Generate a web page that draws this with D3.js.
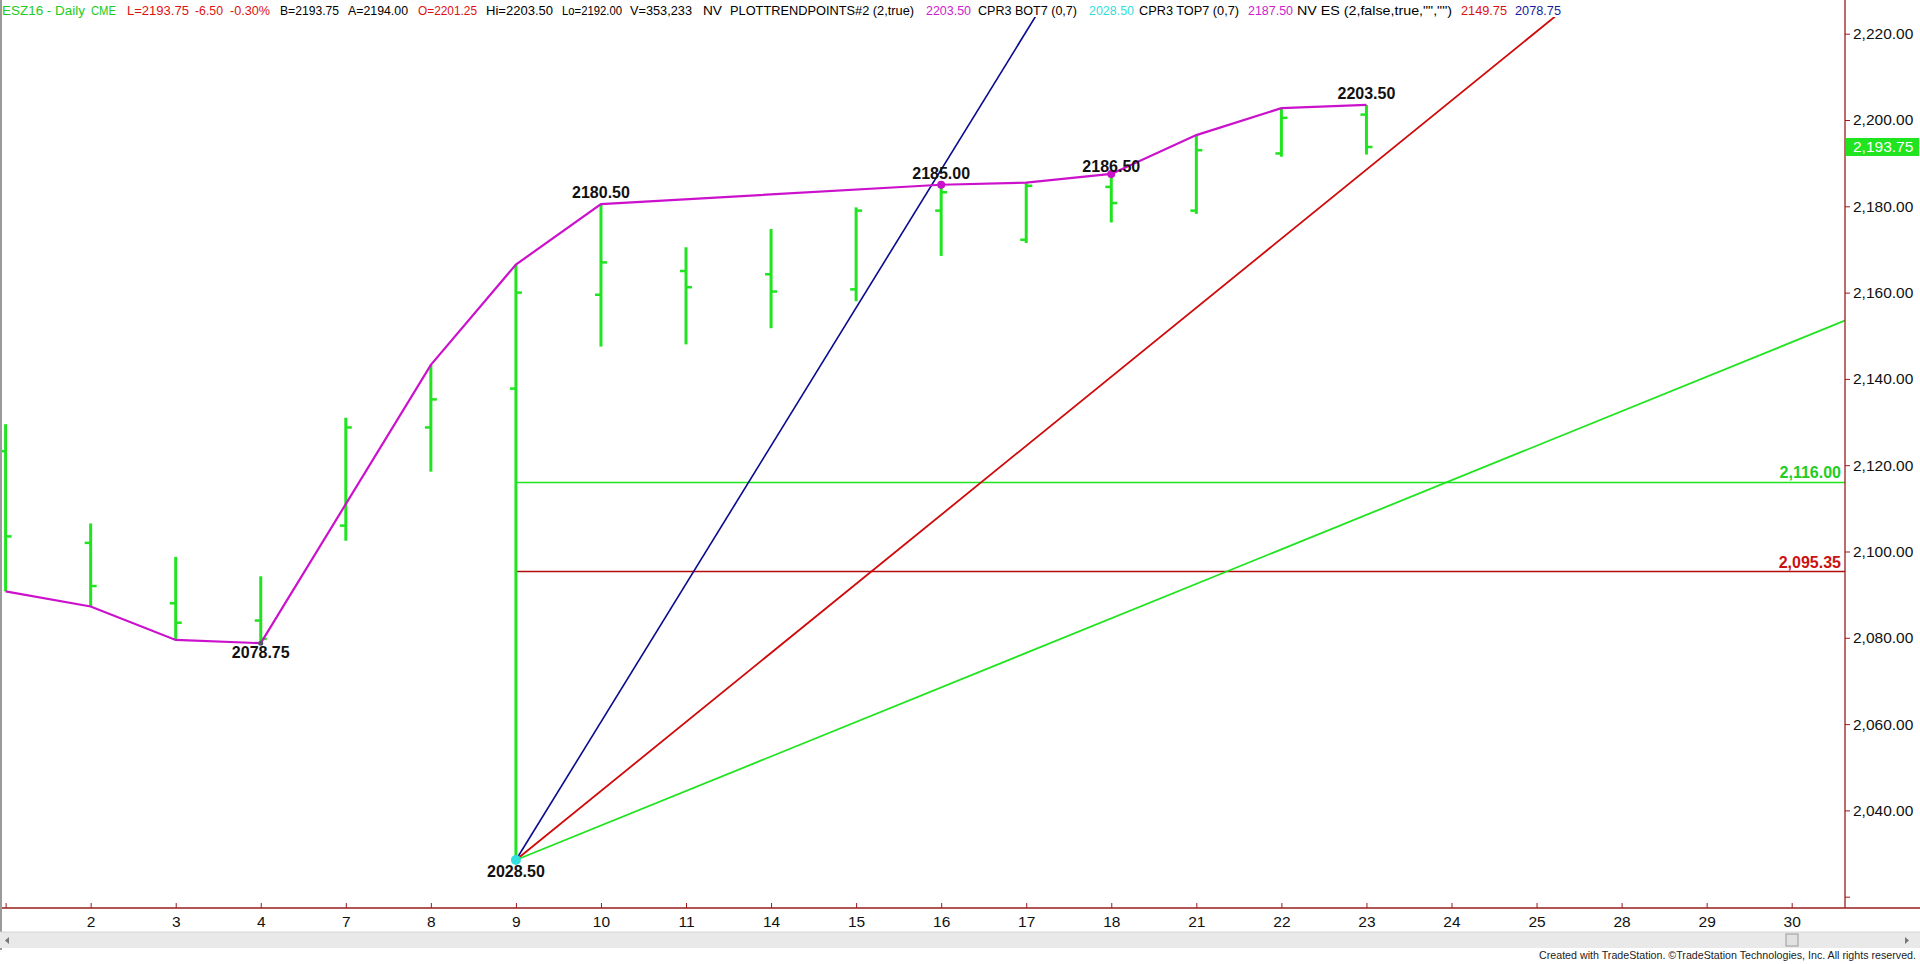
<!DOCTYPE html>
<html><head><meta charset="utf-8">
<script src="https://cdn.jsdelivr.net/npm/d3@7"></script>
<style>body{margin:0;background:#fff;overflow:hidden}svg{display:block}</style>
</head><body>
<script>
// ---- data ----
const days   = [1,2,3,4,7,8,9,10,11,14,15,16,17,18,21,22,23,24,25,28,29,30];
const opens  = [2123.25,2102.00,2088.00,2084.00,2106.00,2128.75,2137.75,2159.50,2165.00,2164.25,2160.75,2179.00,2172.25,2184.50,2179.00,2192.25,2201.25];
const highs  = [2129.50,2106.50,2098.75,2094.25,2131.00,2143.25,2166.50,2180.50,2170.50,2174.75,2179.75,2185.00,2185.50,2187.50,2196.50,2202.75,2203.50];
const lows   = [2090.75,2087.25,2079.50,2078.75,2102.50,2118.50,2028.50,2147.50,2148.00,2151.75,2158.00,2168.50,2171.50,2176.25,2178.25,2191.50,2192.00];
const closes = [2103.50,2092.00,2083.50,2079.75,2128.75,2135.25,2160.00,2167.00,2161.25,2160.25,2179.00,2183.25,2184.75,2180.75,2193.00,2200.50,2193.75];
// swing (trend points) line vertices: bar index and price
const swingIdx  = [0,1,2,3,5,6,7,11,12,13,14,15,16];
const swingVals = [2090.75,2087.25,2079.50,2078.75,2143.25,2166.50,2180.50,2185.00,2185.50,2187.50,2196.50,2202.75,2203.50];
// swing labels
const labelIdx   = [3,6,7,11,13,16];
const labelVals  = [2078.75,2028.50,2180.50,2185.00,2186.50,2203.50];
const labelTexts = ["2078.75","2028.50","2180.50","2185.00","2186.50","2203.50"];
const labelSide  = ["low","low","high","high","high","high"];
// gann fan from the low
const fanIdx = 6, fanVal = 2028.50;
const fanSlopes = [32, 16, 8];           // points per bar
// horizontal levels
const levelVals  = [2116.00, 2095.35];
const levelTexts = ["2,116.00", "2,095.35"];
// y ticks
const yTicks = [2020,2040,2060,2080,2100,2120,2140,2160,2180,2200,2220];
const lastPrice = 2193.75;
// header segments
const headerTexts = ["ESZ16 - Daily","CME","L=2193.75","-6.50","-0.30%","B=2193.75","A=2194.00","O=2201.25","Hi=2203.50","Lo=2192.00","V=353,233","NV","PLOTTRENDPOINTS#2 (2,true)","2203.50","CPR3 BOT7 (0,7)","2028.50","CPR3 TOP7 (0,7)","2187.50","NV ES (2,false,true,\"\",\"\")","2149.75","2078.75"];
const headerX   = [2,91,127,195,230,280,348,418,486,562,630,703,730,926,978,1089,1139,1248,1297,1461,1515];
const headerLen = [83,25,62,28,40,59,60,59,67,60,62,19,184,45,99,45,100,45,155,46,46];
const headerCol = ["#22cc22","#22cc22","#dd1111","#dd1111","#dd1111","#000","#000","#dd1111","#000","#000","#000","#000","#000","#cc22cc","#000","#33dddd","#000","#cc22cc","#000","#dd1111","#1a1a99"];

// ---- layout ----
const W = 1920, H = 964;
const axisX = 1845, axisY = 908, plotTop = 17;
const FONT = "'Liberation Sans', Arial, sans-serif";
const GREEN = "#1fe41f", MAG = "#cc11cc", AXC = "#9a1c1c";

const svg = d3.select("body").append("svg").attr("width", W).attr("height", H)
  .style("font-family", FONT);

const x  = d3.scalePoint().domain(days).range([5.6, 1791.7]);
const xi = d3.scaleLinear().domain([0, days.length - 1]).range([5.6, 1791.7]);
const y  = d3.scaleLinear().domain([2020, 2220]).range([896.7, 33.7]);

svg.append("defs").append("clipPath").attr("id", "plot")
  .append("rect").attr("x", 0).attr("y", plotTop).attr("width", axisX).attr("height", axisY - plotTop);

const g = svg.append("g").attr("clip-path", "url(#plot)");

// horizontal levels
const levelColors = [GREEN, "#b40c0c"];
g.selectAll("line.level").data(levelVals).join("line")
  .attr("x1", xi(fanIdx)).attr("x2", axisX)
  .attr("y1", d => y(d)).attr("y2", d => y(d))
  .attr("stroke", (d, i) => levelColors[i]).attr("stroke-width", 1.6);

// gann fan
const fanColors = ["#0a0a90", "#d00a0a", GREEN];
const fanWidths = [1.6, 1.8, 1.8];
g.selectAll("line.fan").data(fanSlopes).join("line")
  .attr("x1", xi(fanIdx)).attr("y1", y(fanVal))
  .attr("x2", s => xi(fanIdx + 40)).attr("y2", s => y(fanVal + s * 40))
  .attr("stroke", (s, i) => fanColors[i]).attr("stroke-width", (s, i) => fanWidths[i]);

// OHLC bars
const bars = opens.map((o, i) => ({i, o, h: highs[i], l: lows[i], c: closes[i]}));
const bg = g.append("g");
bg.selectAll("line.hl").data(bars).join("line")
  .attr("x1", d => xi(d.i)).attr("x2", d => xi(d.i))
  .attr("y1", d => y(d.h)).attr("y2", d => y(d.l))
  .attr("stroke", GREEN).attr("stroke-width", 3);
bg.selectAll("line.op").data(bars).join("line")
  .attr("x1", d => xi(d.i) - 6).attr("x2", d => xi(d.i))
  .attr("y1", d => y(d.o)).attr("y2", d => y(d.o))
  .attr("stroke", GREEN).attr("stroke-width", 2.5);
bg.selectAll("line.cl").data(bars).join("line")
  .attr("x1", d => xi(d.i)).attr("x2", d => xi(d.i) + 6)
  .attr("y1", d => y(d.c)).attr("y2", d => y(d.c))
  .attr("stroke", GREEN).attr("stroke-width", 2.5);

// swing line
const swing = swingIdx.map((d, k) => [xi(d), y(swingVals[k])]);
g.append("path").attr("d", d3.line()(swing))
  .attr("fill", "none").attr("stroke", MAG).attr("stroke-width", 2.2);

// markers
g.append("circle").attr("cx", xi(fanIdx)).attr("cy", y(fanVal)).attr("r", 5).attr("fill", "#33e0e0");
[11, 13].forEach(i => g.append("circle").attr("cx", xi(i)).attr("cy", y(highs[i])).attr("r", 4).attr("fill", MAG));
g.append("circle").attr("cx", xi(3)).attr("cy", y(lows[3])).attr("r", 2.5).attr("fill", "#555566");

// labels
svg.selectAll("text.swl").data(labelTexts).join("text")
  .attr("x", (t, k) => xi(labelIdx[k]))
  .attr("y", (t, k) => labelSide[k] === "high" ? y(labelVals[k]) - 6 : y(labelVals[k]) + (k === 1 ? 17 : 15))
  .attr("text-anchor", "middle").attr("font-weight", "bold").attr("font-size", 16)
  .attr("fill", "#111").text(t => t);

// level labels
svg.selectAll("text.lvl").data(levelTexts).join("text")
  .attr("x", axisX - 4).attr("y", (t, k) => y(levelVals[k]) - 4)
  .attr("text-anchor", "end").attr("font-weight", "bold").attr("font-size", 16)
  .attr("fill", (t, k) => k === 0 ? "#22cc22" : "#cc1111").text(t => t);

// y axis
const yAxis = d3.axisRight(y).tickValues(yTicks).tickSize(5).tickPadding(3)
  .tickFormat(d => d === 2020 ? "" : d3.format(",.2f")(d));
const ya = svg.append("g").attr("transform", `translate(${axisX},0)`).call(yAxis);
ya.select(".domain").remove();
ya.selectAll("line").attr("stroke", AXC);
ya.selectAll("text").attr("font-size", 15.5).attr("fill", "#111").attr("font-family", FONT);

// axis lines
svg.append("line").attr("x1", axisX).attr("x2", axisX).attr("y1", 0).attr("y2", axisY)
  .attr("stroke", AXC).attr("stroke-width", 1.3);
svg.append("line").attr("x1", 0).attr("x2", W).attr("y1", axisY).attr("y2", axisY)
  .attr("stroke", AXC).attr("stroke-width", 1.3);

// x axis
const xAxis = d3.axisBottom(x).tickSizeInner(-5).tickSizeOuter(0).tickPadding(8);
const xa = svg.append("g").attr("transform", `translate(0,${axisY})`).call(xAxis);
xa.select(".domain").remove();
xa.selectAll("line").attr("stroke", AXC);
xa.selectAll("text").attr("font-size", 15.5).attr("fill", "#111").attr("font-family", FONT);
xa.selectAll(".tick").filter(d => x(d) < 20).select("text").remove();

// last price box
svg.append("rect").attr("x", axisX + 1).attr("y", y(lastPrice) - 9).attr("width", 73).attr("height", 18).attr("fill", GREEN);
svg.append("text").attr("x", axisX + 8).attr("y", y(lastPrice) + 5.5).attr("font-size", 15.5)
  .attr("fill", "#fff").text(d3.format(",.2f")(lastPrice));

// header
svg.selectAll("text.hdr").data(headerTexts).join("text")
  .attr("x", (t, k) => headerX[k]).attr("y", 15).attr("font-size", 13.5)
  .attr("textLength", (t, k) => headerLen[k]).attr("lengthAdjust", "spacingAndGlyphs")
  .attr("fill", (t, k) => headerCol[k]).text(t => t);

// left border
svg.append("line").attr("x1", 1).attr("x2", 1).attr("y1", 0).attr("y2", 950).attr("stroke", "#9a9a9a").attr("stroke-width", 2);

// scrollbar
svg.append("rect").attr("x", 0).attr("y", 932).attr("width", W).attr("height", 16).attr("fill", "#e9e9e9");
svg.append("line").attr("x1", 0).attr("x2", W).attr("y1", 932).attr("y2", 932).attr("stroke", "#d6d6d6");
svg.append("rect").attr("x", 1786).attr("y", 934).attr("width", 12).attr("height", 12).attr("fill", "#e2e2e2").attr("stroke", "#9a9a9a");
svg.append("path").attr("d", "M9,937 L5,940.5 L9,944 Z").attr("fill", "#777");
svg.append("path").attr("d", "M1905,937 L1909,940.5 L1905,944 Z").attr("fill", "#777");

// footer
svg.append("text").attr("x", 1916).attr("y", 958.5).attr("text-anchor", "end").attr("font-size", 10.5)
  .attr("fill", "#222").attr("textLength", 377).attr("lengthAdjust", "spacingAndGlyphs")
  .text("Created with TradeStation. ©TradeStation Technologies, Inc. All rights reserved.");
</script>
</body></html>
